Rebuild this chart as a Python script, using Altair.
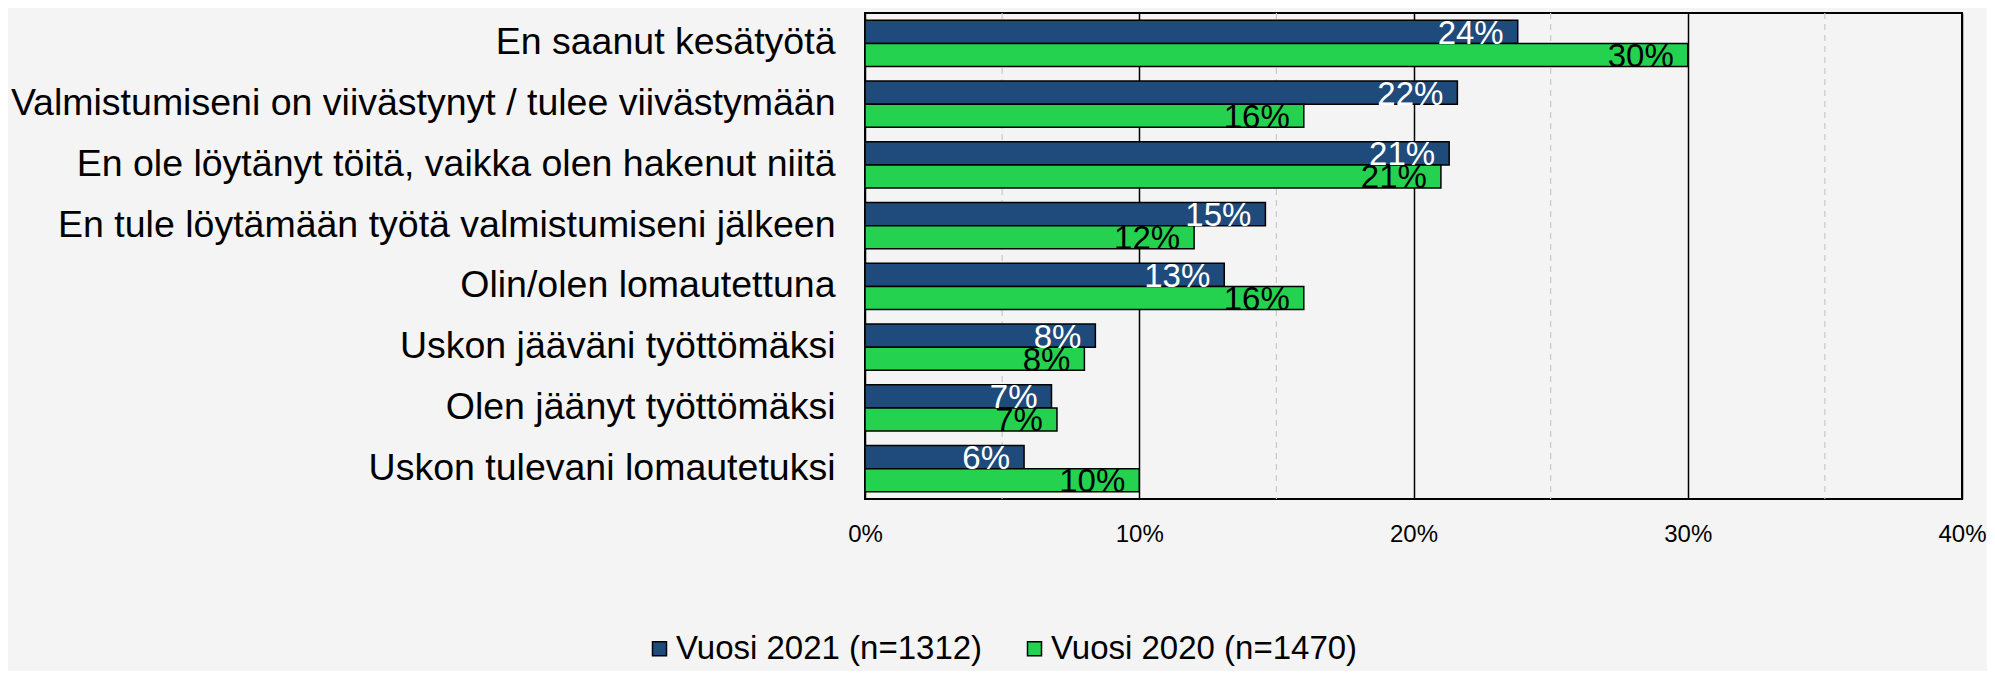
import altair as alt
import pandas as pd

categories = [
    "En saanut kesätyötä",
    "Valmistumiseni on viivästynyt / tulee viivästymään",
    "En ole löytänyt töitä, vaikka olen hakenut niitä",
    "En tule löytämään työtä valmistumiseni jälkeen",
    "Olin/olen lomautettuna",
    "Uskon jääväni työttömäksi",
    "Olen jäänyt työttömäksi",
    "Uskon tulevani lomautetuksi",
]
series = ["Vuosi 2021 (n=1312)", "Vuosi 2020 (n=1470)"]
values_2021 = [23.8, 21.6, 21.3, 14.6, 13.1, 8.4, 6.8, 5.8]
values_2020 = [30.0, 16.0, 21.0, 12.0, 16.0, 8.0, 7.0, 10.0]
labels_2021 = ["24%", "22%", "21%", "15%", "13%", "8%", "7%", "6%"]
labels_2020 = ["30%", "16%", "21%", "12%", "16%", "8%", "7%", "10%"]
major_ticks = [0, 10, 20, 30, 40]
minor_grid = [5, 15, 25, 35]
colors = ["#1f4a7c", "#25d24f"]
label_colors = ["white", "black"]

rows = []
for i, c in enumerate(categories):
    rows.append({"cat": c, "series": series[0], "value": values_2021[i],
                 "label": labels_2021[i], "lc": label_colors[0]})
    rows.append({"cat": c, "series": series[1], "value": values_2020[i],
                 "label": labels_2020[i], "lc": label_colors[1]})
df = pd.DataFrame(rows)
grid_df = pd.DataFrame({"g": minor_grid})

FONT = "Arial, Liberation Sans, sans-serif"

x_scale = alt.Scale(domain=[0, 40], nice=False, zero=True)
y_scale = alt.Scale(paddingInner=0.24, paddingOuter=0.12)

x_enc = alt.X("value:Q", scale=x_scale,
              axis=alt.Axis(values=major_ticks, title=None, grid=True,
                            gridColor="black", gridWidth=1.5, gridOpacity=1,
                            ticks=False, domain=False,
                            labelExpr="datum.value + '%'", labelFontSize=24,
                            labelFont=FONT, labelColor="black",
                            labelPadding=23, labelFlush=False))
y_enc = alt.Y("cat:N", sort=categories, scale=y_scale,
              axis=alt.Axis(title=None, ticks=False, domain=False,
                            labelFontSize=37.5, labelFont=FONT, labelColor="black",
                            labelPadding=30, labelLimit=0))
yoff = alt.YOffset("series:N", sort=series)

minor = alt.Chart(grid_df).mark_rule(color="#c8c8c8", strokeDash=[6, 5],
                                     strokeWidth=1.2).encode(
    x=alt.X("g:Q", scale=x_scale)
)

bars = alt.Chart(df).mark_bar(stroke="black", strokeWidth=1.5).encode(
    x=x_enc,
    y=y_enc,
    yOffset=yoff,
    color=alt.Color("series:N", sort=series,
                    scale=alt.Scale(domain=series, range=colors),
                    legend=alt.Legend(title=None, orient="none",
                                      direction="horizontal",
                                      legendX=-222, legendY=619,
                                      symbolType="square", symbolSize=196,
                                      symbolStrokeColor="black",
                                      symbolStrokeWidth=1.5,
                                      symbolOpacity=1,
                                      labelFontSize=33, labelFont=FONT,
                                      labelColor="black", labelOffset=0,
                                      columnPadding=35, labelLimit=0)),
)

texts = alt.Chart(df).mark_text(align="right", baseline="middle", dx=-14, dy=2,
                                fontSize=33, font=FONT).encode(
    x=alt.X("value:Q", scale=x_scale),
    y=alt.Y("cat:N", sort=categories, scale=y_scale),
    yOffset=yoff,
    text="label:N",
    color=alt.Color("lc:N", scale=None, legend=None),
)

chart = alt.layer(minor, bars, texts).resolve_scale(color="independent").properties(
    width=1097, height=486,
    autosize=alt.AutoSizeParams(type="none"),
    padding={"left": 857, "top": 5, "right": 25, "bottom": 172},
    background="#f4f4f4",
).configure_view(stroke="black", strokeWidth=2, fill="#f4f4f4")

chart.save("out.html", embed_options={"renderer": "svg", "actions": False})
